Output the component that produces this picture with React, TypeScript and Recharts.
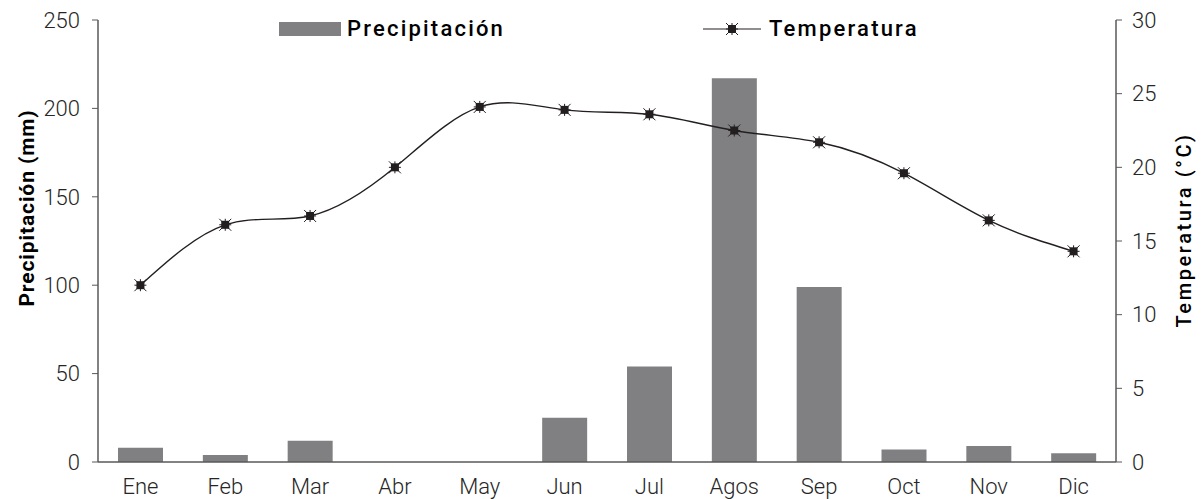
import React from 'react';
import { ComposedChart, Bar, Line, XAxis, YAxis } from 'recharts';

const months = ['Ene', 'Feb', 'Mar', 'Abr', 'May', 'Jun', 'Jul', 'Agos', 'Sep', 'Oct', 'Nov', 'Dic'];
const precipitacion = [8, 4, 12, 0, 0, 25, 54, 217, 99, 7, 9, 5];
const temperatura = [12, 16.1, 16.7, 20, 24.1, 23.9, 23.6, 22.5, 21.7, 19.6, 16.4, 14.3];
const precipTicks = [0, 50, 100, 150, 200, 250];
const tempTicks = [0, 5, 10, 15, 20, 25, 30];

const data = months.map((m, i) => ({ name: m, Precipitación: precipitacion[i], Temperatura: temperatura[i] }));

const BAR_COLOR = '#808083';
const LINE_COLOR = '#231f20';
const AXIS_COLOR = '#595959';
const FONT = 'Roboto, "Noto Sans", sans-serif';

const StarDot = (props: any) => {
    const { cx, cy } = props;
    if (cx == null || cy == null) return null;
    return (
        <g>
            <rect x={cx - 4} y={cy - 4} width={8} height={8} fill={LINE_COLOR} />
            <path
                d={`M${cx - 6},${cy - 6}L${cx + 6},${cy + 6}M${cx + 6},${cy - 6}L${cx - 6},${cy + 6}M${cx},${cy - 6}L${cx},${cy + 6}M${cx - 6},${cy}L${cx + 6},${cy}`}
                stroke={LINE_COLOR}
                strokeWidth={1}
            />
        </g>
    );
};

// legend drawn on top of the chart so it doesn't push the plot down
const LegendOverlay = () => (
    <div style={{ position: 'absolute', left: 0, top: 16, width: 1203, height: 30, fontFamily: FONT, fontSize: 22, fontWeight: 500, letterSpacing: 2.2, color: '#000', pointerEvents: 'none' }}>
        <div style={{ position: 'absolute', left: 279, top: 0, display: 'flex', alignItems: 'center' }}>
            <span style={{ display: 'inline-block', width: 62, height: 14, background: BAR_COLOR, marginRight: 6 }}></span>
            <span>Precipitación</span>
        </div>
        <div style={{ position: 'absolute', left: 703, top: 0, display: 'flex', alignItems: 'center' }}>
            <svg width={58} height={14} style={{ marginRight: 8 }}>
                <line x1={0} y1={7} x2={58} y2={7} stroke={LINE_COLOR} strokeWidth={1.2} />
                <StarDot cx={29} cy={7} />
            </svg>
            <span>Temperatura</span>
        </div>
    </div>
);

const LeftTitle = () => (
    <text x={27} y={208} transform="rotate(-90 27 208)" textAnchor="middle" dominantBaseline="central"
        fill="#000" fontSize={21} fontWeight={700} fontFamily={FONT} letterSpacing={0.9}>
        Precipitación (mm)
    </text>
);

const RightTitle = () => (
    <text x={1184} y={230} transform="rotate(-90 1184 230)" textAnchor="middle" dominantBaseline="central"
        fill="#000" fontSize={20} fontWeight={500} fontFamily={FONT} letterSpacing={2.6}>
        Temperatura (°C)
    </text>
);

export default function App() {
    const tick = { fill: '#262626', fontSize: 22, fontWeight: 300, fontFamily: FONT };
    return (
        <div style={{ position: 'absolute', left: 0, top: 0, width: 1203, height: 499, background: '#fff' }}>
            <ComposedChart width={1203} height={499} data={data} margin={{ top: 20, right: 0, left: 0, bottom: 7 }} barSize={45}>
                <XAxis
                    dataKey="name"
                    tick={tick}
                    tickLine={false}
                    axisLine={{ stroke: AXIS_COLOR, strokeWidth: 1.5 }}
                    height={30}
                    tickMargin={10}
                    interval={0}
                />
                <YAxis
                    yAxisId="left"
                    domain={[0, 250]}
                    ticks={precipTicks}
                    width={98}
                    tick={tick}
                    tickSize={6}
                    tickMargin={12}
                    tickLine={{ stroke: AXIS_COLOR }}
                    axisLine={{ stroke: AXIS_COLOR, strokeWidth: 1.5 }}
                    label={<LeftTitle />}
                />
                <YAxis
                    yAxisId="right"
                    orientation="right"
                    domain={[0, 30]}
                    ticks={tempTicks}
                    width={87}
                    tick={tick}
                    tickSize={6}
                    tickMargin={10}
                    tickLine={{ stroke: AXIS_COLOR }}
                    axisLine={{ stroke: AXIS_COLOR, strokeWidth: 1.5 }}
                    label={<RightTitle />}
                />
                <Bar yAxisId="left" dataKey="Precipitación" fill={BAR_COLOR} isAnimationActive={false} />
                <Line
                    yAxisId="right"
                    type="natural"
                    dataKey="Temperatura"
                    stroke={LINE_COLOR}
                    strokeWidth={1.4}
                    dot={<StarDot />}
                    activeDot={false}
                    isAnimationActive={false}
                />
            </ComposedChart>
            <LegendOverlay />
        </div>
    );
}
